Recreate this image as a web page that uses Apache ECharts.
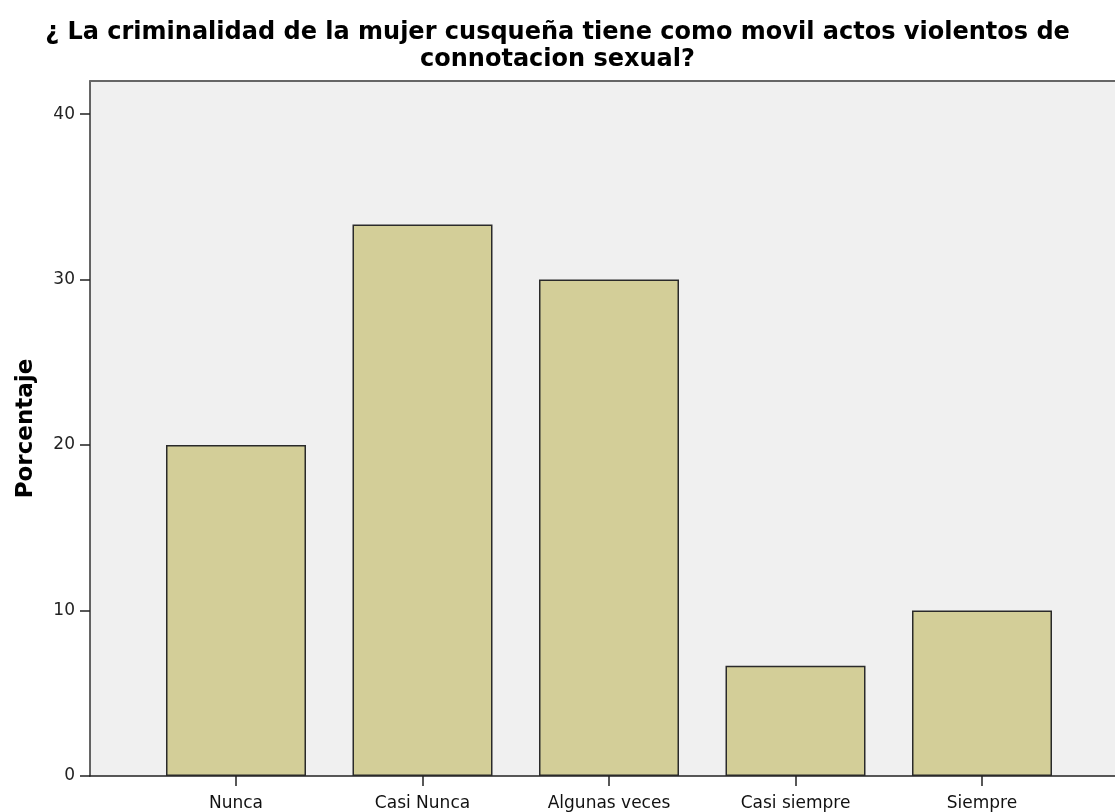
<!DOCTYPE html>
<html>
<head>
<meta charset="utf-8">
<title>Porcentaje</title>
<script src="https://cdn.jsdelivr.net/npm/echarts@6/dist/echarts.min.js"></script>
<style>
    html, body { margin: 0; padding: 0; background: #fff; }
    #main { width: 1115px; height: 812px; }
</style>
</head>
<body>
<div id="main"></div>
<script>
// datos
var categorias = ['Nunca', 'Casi Nunca', 'Algunas veces', 'Casi siempre', 'Siempre'];
var porcentajes = [20, 33.33, 30, 6.67, 10];
var ticksY = [0, 10, 20, 30, 40];

// posicion de cada categoria en el eje x (1..5)
var posX = categorias.map(function (c, i) { return i + 1; });
var datos = posX.map(function (x, i) { return [x, porcentajes[i]]; });

// el area del grafico sigue mas alla del borde derecho
var minX = 1 - 146 / 186.5;
var maxX = minX + 1025 / 186.5;

var chart = echarts.init(document.getElementById('main'));
chart.setOption({
    animation: false,
    title: {
        text: '¿ La criminalidad de la mujer cusqueña tiene como movil actos violentos de\nconnotacion sexual?',
        left: 'center',
        top: 14,
        textStyle: {
            fontFamily: 'DejaVu Sans',
            fontSize: 24,
            fontWeight: 'bold',
            color: '#000',
            lineHeight: 27
        }
    },
    grid: {
        left: 90,
        right: 0,
        top: 81,
        bottom: 36,
        show: true,
        backgroundColor: '#f0f0f0',
        borderWidth: 0
    },
    xAxis: [
        {
            type: 'value',
            min: minX,
            max: maxX,
            splitLine: { show: false },
            axisLine: { show: true, onZero: false, lineStyle: { color: '#222', width: 1.5 } },
            axisTick: {
                show: true,
                customValues: posX,
                length: 10,
                lineStyle: { color: '#222', width: 1.5 }
            },
            axisLabel: {
                customValues: posX,
                margin: 19,
                fontFamily: 'DejaVu Sans',
                fontSize: 17,
                color: '#111',
                formatter: function (v) {
                    return categorias[Math.round(v) - 1];
                }
            }
        },
        {
            // linea superior del marco
            type: 'value',
            position: 'top',
            min: minX,
            max: maxX,
            splitLine: { show: false },
            axisLine: { show: true, onZero: false, lineStyle: { color: '#666', width: 2 } },
            axisTick: { show: false },
            axisLabel: { show: false }
        }
    ],
    yAxis: {
        type: 'value',
        min: 0,
        max: 42,
        splitLine: { show: false },
        name: 'Porcentaje',
        nameLocation: 'middle',
        nameGap: 52,
        nameTextStyle: {
            fontFamily: 'DejaVu Sans',
            fontSize: 23,
            fontWeight: 'bold',
            color: '#000'
        },
        axisLine: { show: true, lineStyle: { color: '#333', width: 1.5 } },
        axisTick: {
            show: true,
            customValues: ticksY,
            length: 10,
            lineStyle: { color: '#222', width: 1.5 }
        },
        axisLabel: {
            customValues: ticksY,
            margin: 15,
            fontFamily: 'DejaVu Sans',
            fontSize: 17,
            color: '#222'
        }
    },
    series: [
        {
            type: 'bar',
            xAxisIndex: 0,
            data: datos,
            barWidth: 140,
            itemStyle: {
                color: '#d3ce98',
                borderColor: '#2a2a2a',
                borderWidth: 1.5
            }
        }
    ]
});
</script>
</body>
</html>
